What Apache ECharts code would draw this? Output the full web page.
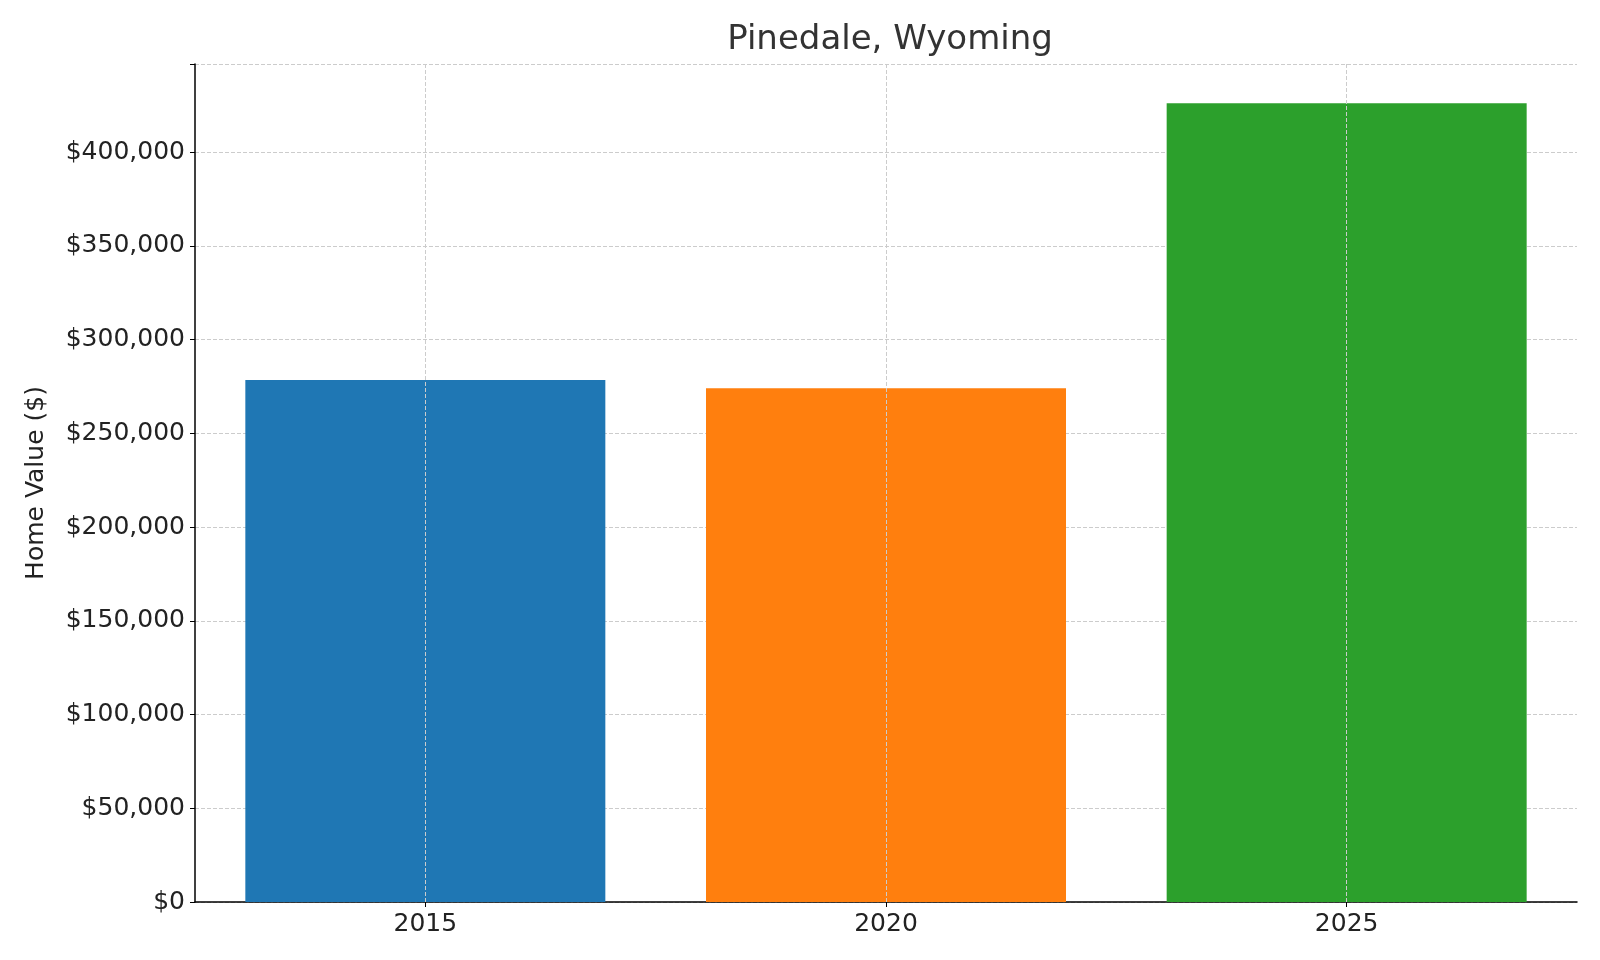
<!DOCTYPE html>
<html><head><meta charset="utf-8">
<script src="https://cdn.jsdelivr.net/npm/echarts@6/dist/echarts.min.js"></script>
<style>html,body{margin:0;padding:0;background:#fff}#c{width:1600px;height:960px}</style>
</head><body><div id="c"></div>
<script>
const categories = ['2015', '2020', '2025'];
const values = [278500, 274000, 426000];
const colors = ['#1f77b4', '#ff7f0e', '#2ca02c'];
const chart = echarts.init(document.getElementById('c'));
const font = 'DejaVu Sans';
chart.setOption({
  animation: false,
  textStyle: { fontFamily: font },
  title: { text: 'Pinedale, Wyoming', left: 885, textAlign: 'center', top: 18,
    textStyle: { fontFamily: font, fontSize: 34, fontWeight: 'normal', color: '#333' } },
  grid: { left: 195, right: 23, top: 64, bottom: 58 },
  xAxis: { type: 'category', data: categories,
    axisLine: { lineStyle: { color: '#000', width: 1.5 } },
    axisTick: { show: true, alignWithLabel: true, lineStyle: { color: '#000' } },
    axisLabel: { fontSize: 25, color: '#222', margin: 10 },
    splitLine: { show: false } },
  yAxis: { type: 'value', min: 0, max: 447000, interval: 50000,
    name: 'Home Value ($)', nameLocation: 'middle', nameGap: 146,
    nameTextStyle: { fontSize: 25, color: '#222' },
    axisLine: { show: true, lineStyle: { color: '#000', width: 1.5 } },
    axisTick: { show: true, lineStyle: { color: '#000' } },
    axisLabel: { fontSize: 25, color: '#222', margin: 10,
      formatter: v => v % 50000 === 0 ? '$' + v.toLocaleString('en-US') : '' },
    splitLine: { show: true, lineStyle: { color: '#ccc', type: 'dashed' } } },
  series: [{
    type: 'bar', barWidth: 360,
    data: values.map((v, i) => ({ value: v, itemStyle: { color: colors[i] } })),
    markLine: { silent: true, symbol: 'none', label: { show: false },
      lineStyle: { color: '#ccc', type: 'dashed', width: 1 },
      data: categories.map(c => ({ xAxis: c })) }
  }]
});
</script></body></html>
